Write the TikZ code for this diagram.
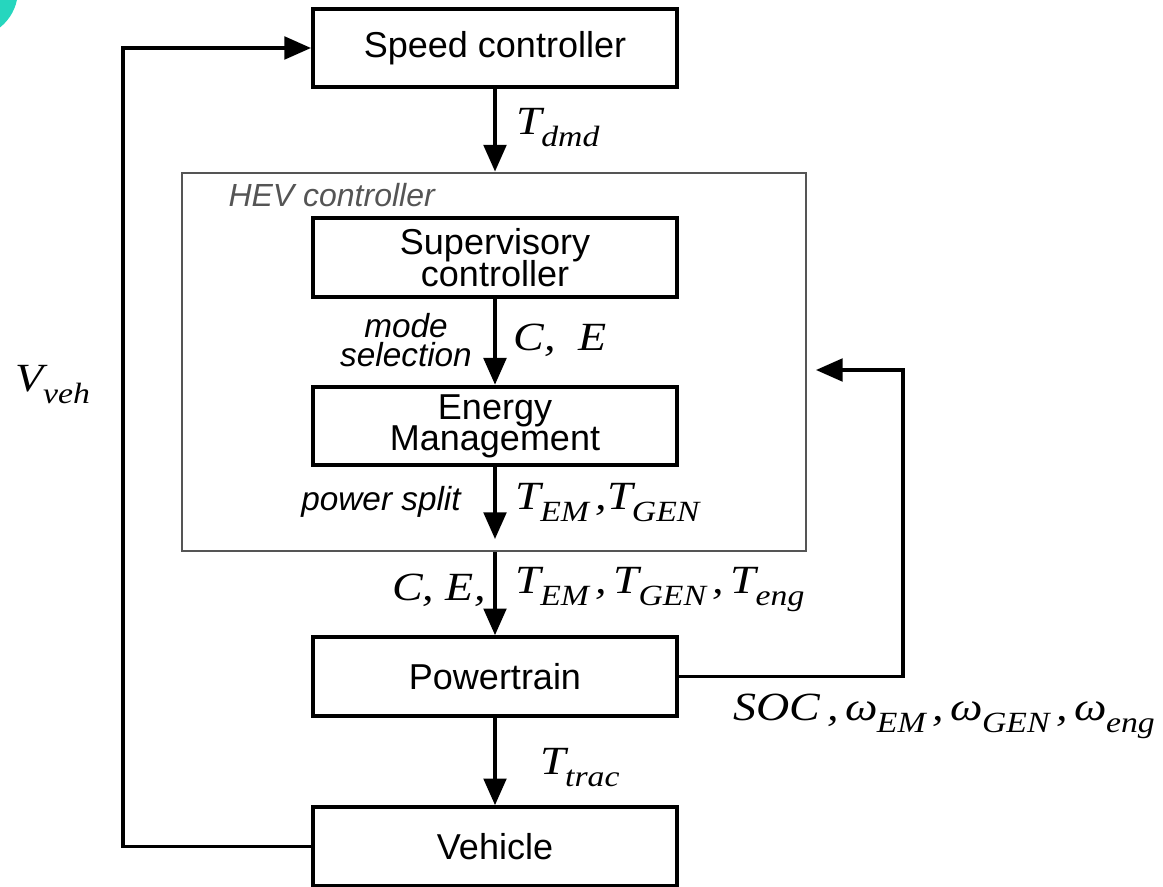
\documentclass[tikz,border=0pt]{standalone}
\usepackage{fontspec}
\setmainfont{Liberation Sans}
\newfontfamily\tms[FakeStretch=1.15]{Liberation Serif}
\usetikzlibrary{arrows.meta}

\definecolor{blobcyan}{RGB}{38,214,190}
\definecolor{hevgray}{RGB}{85,85,85}
\newcommand{\lsub}[2]{#1\kern-0.02em\raisebox{-0.3em}{\fontsize{22}{22}\selectfont #2}}

\tikzset{every picture/.style={line width=0.75pt}}
\tikzset{
	blockbox/.style={draw, line width=3pt, minimum width=273pt, minimum height=59pt, align=center, inner sep=0pt, font=\fontsize{27}{22}\selectfont},
	sig/.style={line width=2.5pt, -{Triangle[width=17pt,length=20pt]}},
	symtext/.style={font=\tms\itshape\fontsize{30}{34}\selectfont, inner sep=0pt},
	annot/.style={font=\itshape\fontsize{25}{22}\selectfont, align=center, inner sep=0pt}
}

\begin{document}
\begin{tikzpicture}[x=0.75pt,y=0.75pt,yscale=-1,xscale=1]
		\useasboundingbox (0,0) rectangle (1163,887);
		
		%Shape: Circle
		\begin{scope}
		\clip (0,0) rectangle (1163,887);
		\fill [blobcyan] (-30,-10) circle [radius=48];
		\end{scope}
		
		%Shape: Rectangle
		\node [draw=hevgray, line width=2.2pt, minimum width=468pt, minimum height=283.5pt, inner sep=0pt] (hev) at (494,362) {};
		% Text Node
		\node [anchor=west, text=hevgray, font=\itshape\fontsize{24}{28}\selectfont, inner sep=0pt] (hevlabel) at (228,195) {HEV controller};
		
		%Shape: Rectangle
		\node [blockbox] (speed) at (495,48) {Speed controller};
		\node [blockbox] (super) at (495,257.5) {Supervisory\\[-2pt]controller};
		\node [blockbox] (energy) at (495,426) {Energy\\[-2pt]Management};
		\node [blockbox] (power) at (495,676.5) {Powertrain};
		\node [blockbox] (vehicle) at (495,846.5) {Vehicle};
		
		\coordinate (split) at (495,539);
		\coordinate (fbturn) at (903,370);
		\coordinate (fbin) at (816,370);
		\coordinate (fbleft) at (123,48);
		
		%Straight Lines
		\draw [sig] (speed.south) -- (speed.south |- hev.north);
		\draw [sig] (super.south) -- (energy.north);
		\draw [sig] (energy.south) -- (split);
		\draw [sig] (power.north |- hev.south) -- (power.north);
		\draw [sig] (power.south) -- (vehicle.north);
		\draw [sig] (power.east) -| (fbturn) -- (fbin);
		\draw [sig] (vehicle.west) -| (fbleft) -- (speed.west);
		
		% Text Node
		\node [symtext] (tdmd) at (558,128) {\lsub{T}{dmd}};
		% Text Node
		\node [annot] (modesel) at (406,340) {mode\\selection};
		% Text Node
		\node [symtext] (ce) at (560,340) {C,\; E};
		% Text Node
		\node [annot] (psplit) at (381,502) {power split};
		% Text Node
		\node [symtext, anchor=west] (temgen) at (515,503) {\lsub{T}{EM}\,,\lsub{T}{GEN}};
		% Text Node
		\node [symtext, anchor=east] (cein) at (486,590) {C, E,};
		% Text Node
		\node [symtext, anchor=west] (tin) at (515,590) {\lsub{T}{EM}\,,\,\lsub{T}{GEN}\,,\,\lsub{T}{eng}};
		% Text Node
		\node [symtext, anchor=west] (soc) at (733,716) {SOC\,,\,\lsub{ω}{EM}\,,\,\lsub{ω}{GEN}\,,\,\lsub{ω}{eng}};
		% Text Node
		\node [symtext] (ttrac) at (580,768) {\lsub{T}{trac}};
		% Text Node
		\node [symtext] (vveh) at (53,385) {\lsub{V}{veh}};
		
\end{tikzpicture}
\end{document}
